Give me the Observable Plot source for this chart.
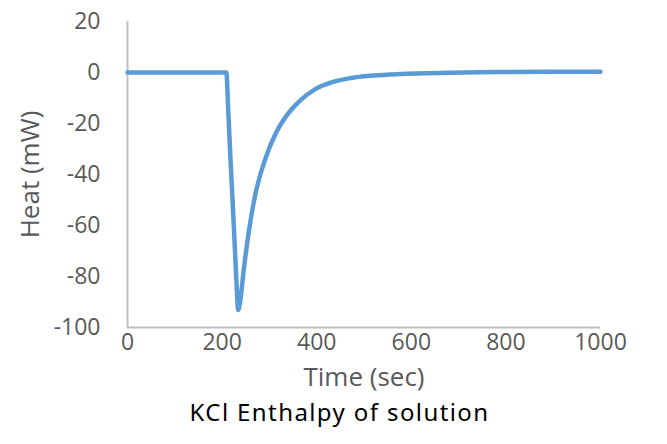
<!DOCTYPE html>
<html>
<head>
<meta charset="utf-8">
<script src="https://cdn.jsdelivr.net/npm/d3@7"></script>
<script src="https://cdn.jsdelivr.net/npm/@observablehq/plot@0.6"></script>
<style>
  html, body { margin: 0; padding: 0; background: #fff; }
  #chart { width: 667px; }
  .caption { font-family: "Noto Sans", sans-serif; font-size: 24px; letter-spacing: 1.4px; color: #000; text-align: center; width: 667px; margin-left: 6px; line-height: 30px; margin-top: 7px; }
</style>
</head>
<body>
<div id="chart"></div>
<script>
const time = [0, 100, 200, 209, 213, 218, 225, 230, 234, 238, 246, 256, 270, 292, 313, 334, 362, 397, 433, 471, 520, 577, 680, 789, 900, 1000];
const heat = [0, 0, 0, 0, -15, -35, -61, -80.7, -93.1, -90, -77, -63, -48, -33.5, -24, -17.5, -11.5, -6.5, -3.8, -2.2, -1.2, -0.6, -0.1, 0.2, 0.3, 0.3];
const xTicks = [0, 200, 400, 600, 800, 1000];
const yTicks = [20, 0, -20, -40, -60, -80, -100];
const xLabel = "Time (sec)";
const yLabel = "Heat (mW)";
const caption = "KCl Enthalpy of solution";

const data = time.map((t, i) => ({t, h: heat[i]}));
const fmt = d => String(d);

const chart = Plot.plot({
  width: 667,
  height: 390,
  marginTop: 21,
  marginBottom: 63,
  marginLeft: 127,
  marginRight: 67,
  style: {fontFamily: "'Open Sans', sans-serif", color: "#595959", background: "#fff"},
  x: {domain: [0, 1000], label: null},
  y: {domain: [-100, 20], label: null},
  marks: [
    Plot.axisX({ticks: xTicks, tickFormat: fmt, tickSize: 0, tickPadding: 6, fontSize: 23, fill: "#595959", label: null}),
    Plot.axisY({ticks: yTicks, tickFormat: fmt, tickSize: 0, tickPadding: 27, fontSize: 23, fill: "#595959", label: null}),
    Plot.ruleY([-100], {stroke: "#bfbfbf", strokeWidth: 2}),
    Plot.ruleX([0], {stroke: "#bfbfbf", strokeWidth: 2}),
    Plot.line(data, {x: "t", y: "h", stroke: "#5b9bd5", strokeWidth: 4.5, curve: "monotone-x"}),
    Plot.text([xLabel], {frameAnchor: "bottom", dy: 58, fontSize: 26, fill: "#595959", lineAnchor: "bottom"}),
    Plot.text([yLabel], {frameAnchor: "left", textAnchor: "middle", dx: -97, rotate: -90, fontSize: 26, fill: "#595959"})
  ]
});
chart.style.overflow = "visible";
document.getElementById("chart").appendChild(chart);
const cap = document.createElement("div");
cap.className = "caption";
cap.textContent = caption;
document.body.appendChild(cap);
</script>
</body>
</html>
